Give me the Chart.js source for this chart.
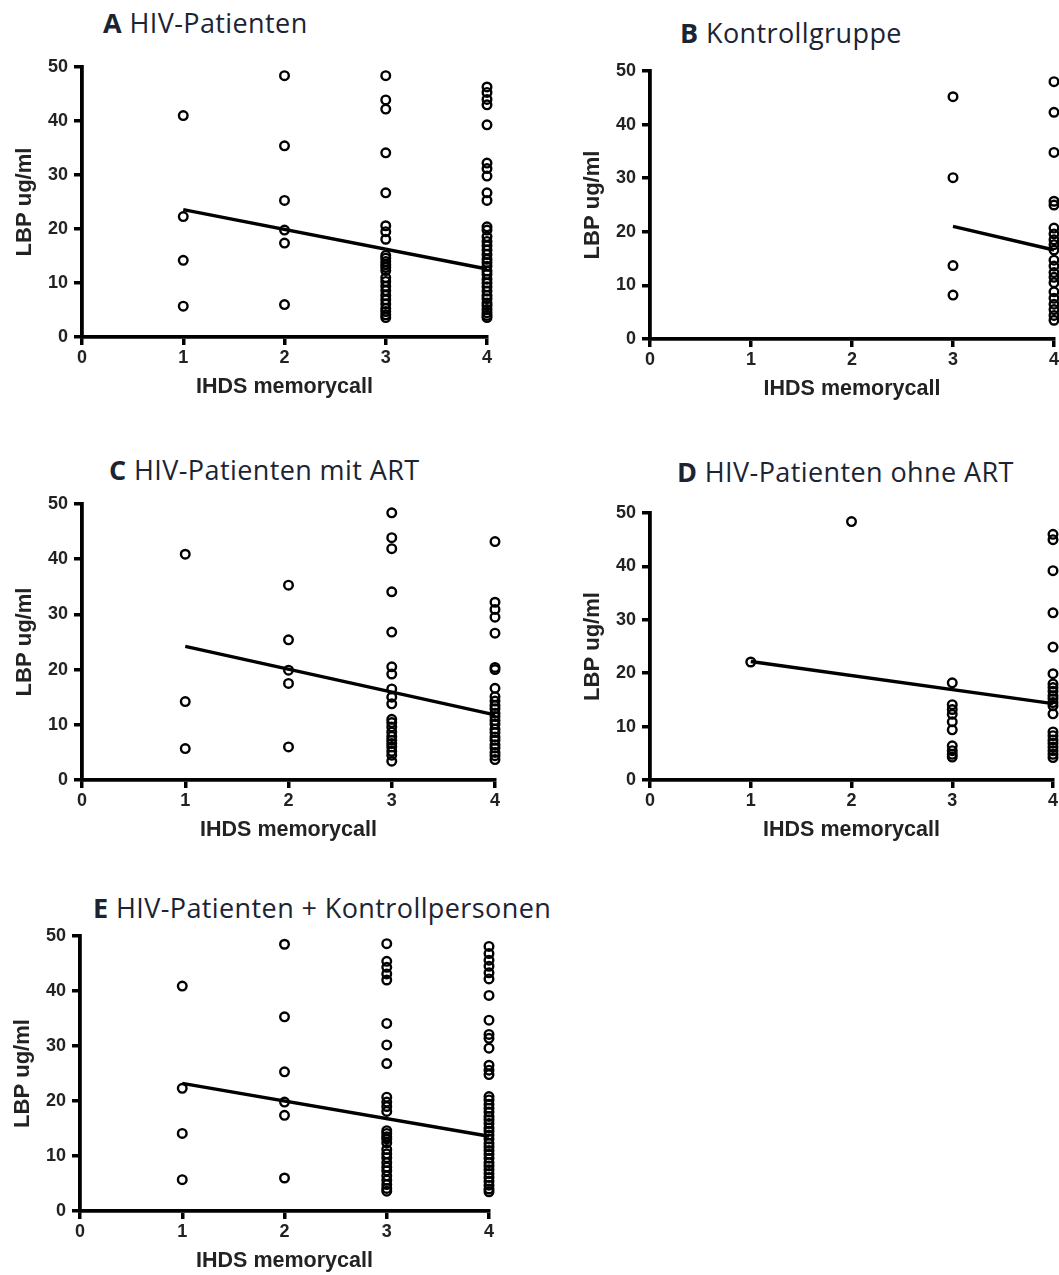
<!DOCTYPE html>
<html>
<head>
<meta charset="utf-8">
<script src="https://cdn.jsdelivr.net/npm/chart.js@4.4.1/dist/chart.umd.min.js"></script>
<style>
  html, body { margin: 0; padding: 0; background: #fff; }
  body { width: 1059px; height: 1275px; overflow: hidden; position: relative; }
  .title { position: absolute; font-family: "Open Sans", sans-serif; font-size: 27px; line-height: 1;
           color: #1b2433; white-space: nowrap; letter-spacing: 0.4px; }
  .title b { font-weight: 700; }
  .box { position: absolute; }
</style>
</head>
<body>
<script>
// ---- LBP (ug/ml) by IHDS memory-recall score ----

// A: HIV patients
const hivScore1 = [41.0, 22.3, 14.2, 5.7];
const hivScore2 = [48.4, 35.4, 25.3, 19.8, 17.4, 6.0];
const hivScore3 = [48.4, 43.9, 42.2, 34.1, 26.7, 20.6, 19.5, 18.1, 15.1, 14.6, 14.0, 13.4, 12.9, 12.3,
                   11.0, 10.3, 9.4, 8.6, 7.7, 6.9, 6.1, 5.3, 4.7, 4.1, 3.6];
const hivScore4 = [46.3, 45.3, 44.0, 43.0, 39.3, 32.2, 31.2, 29.8, 26.7, 25.3, 20.4, 19.8, 18.6, 17.7,
                   16.9, 16.1, 15.3, 14.4, 13.8, 13.1, 12.2, 11.6, 10.7, 10.0, 9.3, 8.5, 7.7, 7.1,
                   6.3, 5.8, 5.1, 4.5, 4.0, 3.6];
const hivFit = [23.6, 12.6];

// B: control group
const ctrlScore3 = [45.2, 30.1, 13.7, 8.2];
const ctrlScore4 = [48.0, 42.3, 34.8, 25.7, 25.0, 20.7, 19.6, 18.5, 17.6, 16.6, 14.7, 13.6, 12.4,
                    11.5, 10.5, 8.8, 7.6, 6.5, 5.5, 4.4, 3.5];
const ctrlFit = [21.0, 16.6];

// C: HIV patients on ART
const artScore1 = [40.9, 14.2, 5.7];
const artScore2 = [35.3, 25.4, 19.9, 17.5, 6.0];
const artScore3 = [48.4, 43.9, 41.9, 34.1, 26.8, 20.5, 19.2, 16.5, 15.0, 13.8, 11.0, 10.4, 9.6,
                   8.7, 7.9, 7.2, 6.6, 6.0, 5.2, 4.5, 3.4];
const artScore4 = [43.2, 32.2, 30.9, 29.5, 26.6, 20.4, 20.0, 16.6, 15.1, 14.3, 13.5, 12.9, 12.1,
                   11.5, 10.8, 10.1, 9.2, 8.6, 7.8, 7.2, 6.4, 5.8, 5.0, 4.4, 3.7];
const artFit = [24.2, 11.8];

// D: HIV patients without ART
const naiveScore1 = [22.1];
const naiveScore2 = [48.4];
const naiveScore3 = [18.2, 14.1, 13.2, 12.3, 10.9, 9.4, 6.4, 5.5, 4.8, 4.3];
const naiveScore4 = [46.0, 45.0, 39.2, 31.3, 24.9, 19.9, 18.0, 17.3, 16.6, 15.8, 15.2, 14.5, 13.9,
                     12.4, 9.0, 8.3, 7.5, 6.9, 6.2, 5.5, 4.8, 4.2];
const naiveFit = [22.2, 14.3];

// E: HIV patients + controls
const allScore1 = [40.9, 22.3, 14.1, 5.7];
const allScore2 = [48.5, 35.3, 25.3, 19.8, 17.4, 6.0];
const allScore3 = [48.6, 45.4, 44.3, 43.1, 42.0, 34.1, 30.2, 26.8, 20.7, 19.8, 19.0, 18.1, 14.6,
                   14.1, 13.5, 13.1, 12.4, 11.2, 10.4, 9.7, 8.8, 8.0, 7.3, 6.4, 5.6, 4.8, 4.1, 3.6];
const allScore4 = [48.1, 46.8, 45.6, 44.5, 43.3, 42.2, 39.2, 34.7, 32.1, 31.4, 29.6, 26.5, 25.6,
                   24.8, 20.8, 20.2, 19.4, 18.7, 18.0, 17.2, 16.6, 15.9, 15.1, 14.5, 13.8, 13.1,
                   12.3, 11.7, 11.0, 10.3, 9.6, 8.8, 8.2, 7.5, 6.8, 6.1, 5.4, 4.7, 4.0, 3.5];
const allFit = [23.2, 13.6];

const xTicks = [0, 1, 2, 3, 4];
const yTicks = [0, 10, 20, 30, 40, 50];
const xTitle = 'IHDS memorycall';
const yTitle = 'LBP ug/ml';

// ---- panel layout (plot area edges in page pixels) ----
const panels = [
  { letter: 'A', name: 'HIV-Patienten', tx: 103, ty: 9,
    area: { l: 82, t: 67, r: 487, b: 337 },
    groups: [[1, hivScore1], [2, hivScore2], [3, hivScore3], [4, hivScore4]], fitX: [1, 4], fit: hivFit },
  { letter: 'B', name: 'Kontrollgruppe', tx: 680, ty: 19,
    area: { l: 650, t: 71, r: 1054, b: 339 },
    groups: [[3, ctrlScore3], [4, ctrlScore4]], fitX: [3, 4], fit: ctrlFit },
  { letter: 'C', name: 'HIV-Patienten mit ART', tx: 109, ty: 456,
    area: { l: 82, t: 504, r: 495, b: 780 },
    groups: [[1, artScore1], [2, artScore2], [3, artScore3], [4, artScore4]], fitX: [1, 4], fit: artFit },
  { letter: 'D', name: 'HIV-Patienten ohne ART', tx: 677, ty: 458,
    area: { l: 650, t: 513, r: 1053, b: 780 },
    groups: [[1, naiveScore1], [2, naiveScore2], [3, naiveScore3], [4, naiveScore4]], fitX: [1, 4], fit: naiveFit },
  { letter: 'E', name: 'HIV-Patienten + Kontrollpersonen', tx: 93, ty: 894,
    area: { l: 80, t: 936, r: 489, b: 1211 },
    groups: [[1, allScore1], [2, allScore2], [3, allScore3], [4, allScore4]], fitX: [1, 4], fit: allFit }
];

// scale geometry
const PAD = { l: 4, t: 20, r: 24, b: 4 };
const Y_AXIS_W = 70;
const X_AXIS_H = 63;
const TICK_LEN = 8;
const AXIS_FONT = { family: '"Liberation Sans", Arial, sans-serif', weight: 'bold' };

function axisCommon() {
  return {
    type: 'linear',
    grid: { display: true, drawOnChartArea: false, drawTicks: true, tickLength: TICK_LEN,
            color: '#000', lineWidth: 3.5 },
    border: { display: true, color: '#000', width: 3.8 },
  };
}

panels.forEach((p) => {
  const title = document.createElement('div');
  title.className = 'title';
  title.style.left = p.tx + 'px';
  title.style.top = p.ty + 'px';
  title.innerHTML = '<b>' + p.letter + '</b> ' + p.name;
  document.body.appendChild(title);

  const a = p.area;
  const w = (a.r - a.l) + PAD.l + Y_AXIS_W + PAD.r;
  const h = (a.b - a.t) + PAD.t + X_AXIS_H + PAD.b;
  const box = document.createElement('div');
  box.className = 'box';
  box.style.left = (a.l - Y_AXIS_W - PAD.l) + 'px';
  box.style.top = (a.t - PAD.t) + 'px';
  box.style.width = w + 'px';
  box.style.height = h + 'px';
  const canvas = document.createElement('canvas');
  canvas.width = w; canvas.height = h;
  box.appendChild(canvas);
  document.body.appendChild(box);

  const datasets = p.groups.map(([score, values]) => ({
    type: 'scatter',
    data: values.map(v => ({ x: score, y: v })),
    pointStyle: 'circle', pointRadius: 4.3, borderWidth: 2.4,
    borderColor: '#000', backgroundColor: 'rgba(255,255,255,0)',
    clip: false
  }));
  datasets.push({
    type: 'line',
    data: p.fitX.map((x, k) => ({ x: x, y: p.fit[k] })),
    borderColor: '#000', borderWidth: 3.4, pointRadius: 0, fill: false, clip: false
  });

  const xScale = Object.assign(axisCommon(), {
    min: xTicks[0], max: xTicks[xTicks.length - 1],
    afterBuildTicks: s => { s.ticks = xTicks.map(v => ({ value: v })); },
    afterFit: s => { s.height = X_AXIS_H; },
    ticks: { color: '#222', padding: 2, font: Object.assign({ size: 18 }, AXIS_FONT),
             callback: v => String(v) },
    title: { display: true, text: xTitle, color: '#222', padding: 0,
             font: Object.assign({ size: 21.5 }, AXIS_FONT) }
  });
  const yScale = Object.assign(axisCommon(), {
    min: yTicks[0], max: yTicks[yTicks.length - 1],
    afterBuildTicks: s => { s.ticks = yTicks.map(v => ({ value: v })); },
    afterFit: s => { s.width = Y_AXIS_W; },
    ticks: { color: '#222', padding: 6, font: Object.assign({ size: 18 }, AXIS_FONT),
             callback: v => String(v) },
    title: { display: true, text: yTitle, color: '#222', padding: 0,
             font: Object.assign({ size: 22 }, AXIS_FONT) }
  });

  new Chart(canvas, {
    type: 'scatter',
    data: { datasets },
    options: {
      responsive: false, animation: false, devicePixelRatio: 1,
      layout: { padding: { left: PAD.l, top: PAD.t, right: PAD.r, bottom: PAD.b } },
      plugins: { legend: { display: false }, tooltip: { enabled: false } },
      scales: { x: xScale, y: yScale }
    }
  });
});
</script>
</body>
</html>
